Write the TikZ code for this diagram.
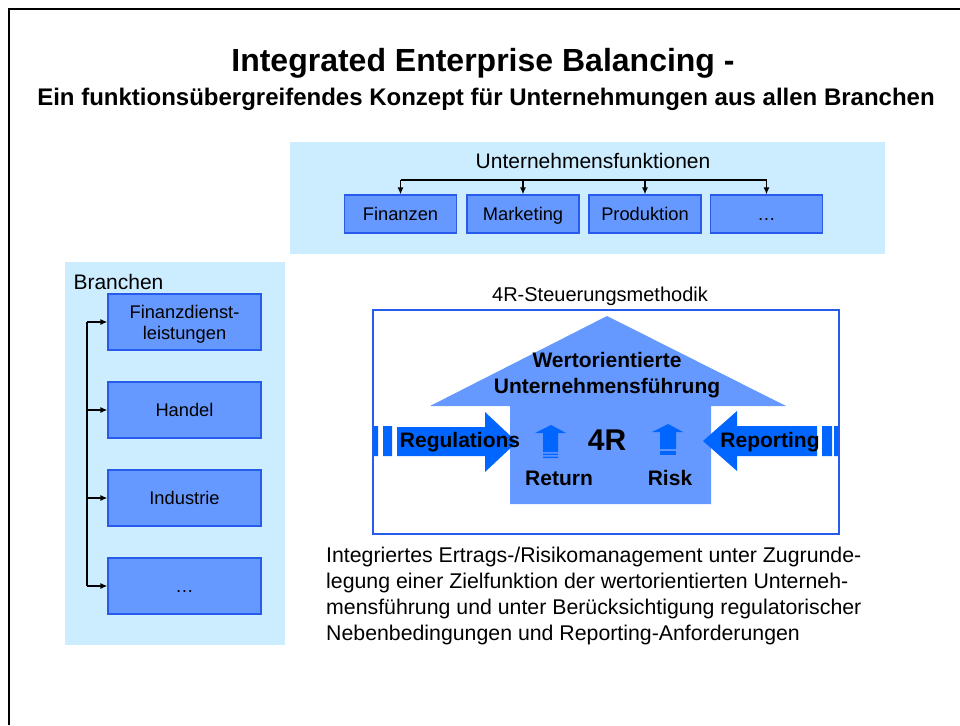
\documentclass[tikz,border=0pt]{standalone}
\usepackage{fontspec}
\setmainfont{Liberation Sans}
\usetikzlibrary{arrows.meta}

\definecolor{lightpanel}{RGB}{204,236,255}
\definecolor{boxblue}{RGB}{102,153,255}
\definecolor{edgeblue}{RGB}{40,90,235}
\definecolor{brightblue}{RGB}{0,102,255}

\tikzstyle{panel} = [rectangle, fill=lightpanel, inner sep=0pt]
\tikzstyle{unit} = [minimum height=38pt, minimum width=112pt, rectangle, inner sep=0pt, align=center, text height=13pt, text depth=0pt, font=\fontsize{18.3}{21}\selectfont, style={fill=boxblue, draw=edgeblue, line width=1.2pt}]
\tikzstyle{branch} = [unit, minimum height=56pt, minimum width=153pt]
\tikzstyle{heading} = [font=\fontsize{21}{25}\selectfont]
\tikzstyle{bold} = [font=\bfseries\fontsize{21}{26}\selectfont, align=center]
\tikzstyle{link} = [-{Latex[length=7pt,width=6pt]}, style={line width=1.3pt}]

\begin{document}
\begin{tikzpicture}[x=1pt, y=-1pt]
\useasboundingbox (0,0) rectangle (960,725);
% Page frame
	\draw[line width=2pt] (9,725) -- (9,9) -- (960,9);

% Title
	\node[font=\bfseries\fontsize{32}{38}\selectfont] at (483,63) (title) {Integrated Enterprise Balancing -};
	\node[font=\bfseries\fontsize{24}{29}\selectfont] at (486,99) (subtitle) {Ein funktionsübergreifendes Konzept für Unternehmungen aus allen Branchen};

% Functions
	\node[panel, minimum width=595pt, minimum height=112pt] at (587.5,198) (funcs) {};
	\node[heading] at (593,161) (funcstitle) {Unternehmensfunktionen};
	\node[unit] at (400.5,214) (fin) {Finanzen};
	\node[unit] at (523,214) (mkt) {Marketing};
	\node[unit] at (645,214) (prod) {Produktion};
	\node[unit] at (766.5,214) (fmore) {…};
	\coordinate (fbus) at (593,180);
	\draw[line width=1.3pt] (fin.north |- fbus) -- (fmore.north |- fbus);
	\foreach \n in {fin,mkt,prod,fmore}
		\draw[link] (\n.north |- fbus) -- (\n.north);

% Branches
	\node[panel, minimum width=220pt, minimum height=383pt] at (175,453.5) (branches) {};
	\node[heading, anchor=west] at (70,282) (branchtitle) {Branchen};
	\node[branch, text height=38pt, text depth=4pt] at (184.5,322) (fds) {Finanzdienst-\\leistungen};
	\node[branch] at (184.5,410) (trade) {Handel};
	\node[branch] at (184.5,498) (ind) {Industrie};
	\node[branch] at (184.5,586) (bmore) {…};
	\coordinate (bbus) at (87,0);
	\draw[line width=1.3pt] (fds.west -| bbus) -- (bmore.west -| bbus);
	\foreach \n in {fds,trade,ind,bmore}
		\draw[link] (\n.west -| bbus) -- (\n.west);

% 4R method
	\node[draw=edgeblue, line width=1.3pt, minimum width=466pt, minimum height=224pt, inner sep=0pt] at (606,422) (steer) {};
	\node[font=\fontsize{20}{24}\selectfont] at (600,296) (steertitle) {4R-Steuerungsmethodik};
	\fill[boxblue] (430,406) -- (607,316) -- (786,406) -- (711,406) -- (711,504) -- (510,504) -- (510,406) -- cycle;
	\node[bold] at (607,375) (vbm) {Wertorientierte\\Unternehmensführung};

	% Regulations arrow
	\fill[brightblue] (374,426) rectangle (378,456) (383,426) rectangle (392,456);
	\fill[brightblue] (397,427) -- (485,427) -- (485,412) -- (517,442) -- (485,472) -- (485,456) -- (397,456) -- cycle;
	\node[bold] at (460,442) (reg) {Regulations};

	% Reporting arrow
	\fill[brightblue] (822,426) rectangle (832,456) (834,426) rectangle (838,456);
	\fill[brightblue] (817,426) -- (737,426) -- (737,411) -- (703,441) -- (737,471) -- (737,456) -- (817,456) -- cycle;
	\node[bold] at (770,442) (rep) {Reporting};

	% Return and risk
	\fill[brightblue] (551,425) -- (566,433) -- (558,433) -- (558,452) -- (543,452) -- (543,433) -- (535,433) -- cycle;
	\fill[brightblue] (543,453.5) rectangle (558,455) (543,456.5) rectangle (558,458);
	\fill[brightblue] (668,424) -- (683,432) -- (676,432) -- (676,449) -- (660,449) -- (660,432) -- (652,432) -- cycle;
	\fill[brightblue] (660,451) rectangle (676,455);
	\node[font=\bfseries\fontsize{30}{36}\selectfont] at (607,440) (four) {4R};
	\node[bold] at (559,478) (ret) {Return};
	\node[bold] at (670,478) (risk) {Risk};

% Description
	\node[anchor=west, align=left, inner sep=0pt, font=\fontsize{21.3}{25.7}\selectfont] at (326,596) (desc) {Integriertes Ertrags-/Risikomanagement unter Zugrunde-\\legung einer Zielfunktion der wertorientierten Unterneh-\\mensführung und unter Berücksichtigung regulatorischer\\Nebenbedingungen und Reporting-Anforderungen};

\end{tikzpicture}
\end{document}
